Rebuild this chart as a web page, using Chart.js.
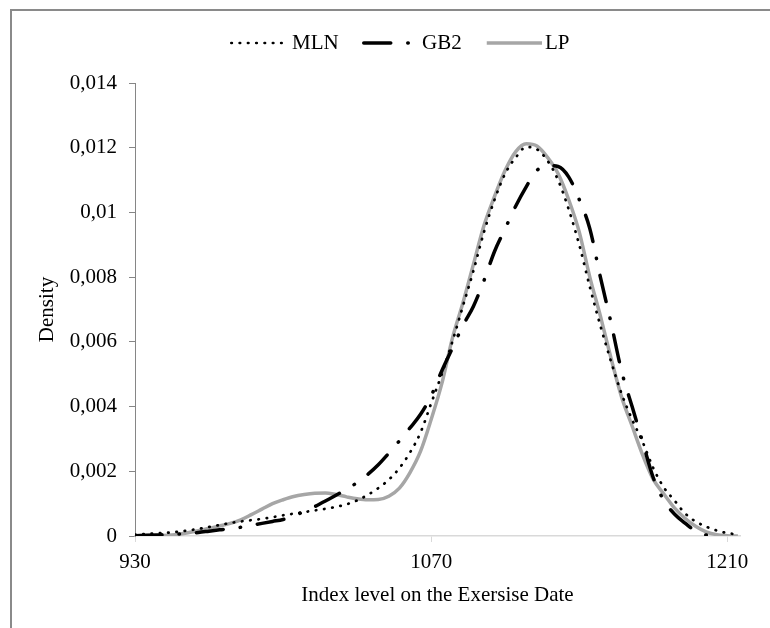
<!DOCTYPE html>
<html>
<head>
<meta charset="utf-8">
<script src="https://cdn.jsdelivr.net/npm/chart.js@4.4.0/dist/chart.umd.min.js"></script>
<style>
    html, body { margin: 0; padding: 0; background: #fff; overflow: hidden; }
    #wrap { position: relative; width: 770px; height: 628px; }
    #frame { position: absolute; left: 10px; top: 9px; width: 900px; height: 800px; border: 2px solid #8a8a8a; }
    #chart { position: absolute; left: 0; top: 0; }
</style>
</head>
<body>
<div id="wrap">
    <div id="frame"></div>
    <canvas id="chart" width="770" height="628"></canvas>
</div>
<script>
// index level on the x axis (step 5)
const indexLevels = [
    930, 935, 940, 945, 950, 955, 960, 965, 970, 975,
    980, 985, 990, 995, 1000, 1005, 1010, 1015, 1020, 1025,
    1030, 1035, 1040, 1045, 1050, 1055, 1060, 1065, 1070, 1075,
    1080, 1085, 1090, 1095, 1100, 1105, 1110, 1115, 1120, 1125,
    1130, 1135, 1140, 1145, 1150, 1155, 1160, 1165, 1170, 1175,
    1180, 1185, 1190, 1195, 1200, 1205, 1210, 1215
];

const mlnDensity = [
    0.00004, 0.00006, 0.00008, 0.0001, 0.00013, 0.00017, 0.00022, 0.00028, 0.00034, 0.0004,
    0.00045, 0.00049, 0.00053, 0.00058, 0.00064, 0.00069, 0.00074, 0.00079, 0.00084, 0.0009,
    0.00098, 0.0011, 0.00127, 0.00148, 0.00174, 0.0021, 0.00258, 0.0032, 0.0041, 0.005,
    0.006, 0.0071, 0.0082, 0.0094, 0.0104, 0.0112, 0.0117, 0.01202, 0.01195, 0.0116,
    0.011, 0.0101, 0.009, 0.0077, 0.0065, 0.0054, 0.0044, 0.0036, 0.0029, 0.0021,
    0.0015, 0.0011, 0.0007, 0.00045, 0.00029, 0.00017, 0.00009, 0.00005
];

const gb2Density = [
    0.00001, 0.00002, 0.00003, 0.00004, 0.00006, 0.00008, 0.00011, 0.00015, 0.00019, 0.00023,
    0.00027, 0.00033, 0.00039, 0.00045, 0.00051, 0.00062, 0.00076, 0.00091, 0.00108, 0.00126,
    0.00145, 0.00165, 0.0019, 0.0022, 0.00256, 0.00294, 0.00334, 0.00376, 0.00433, 0.0051,
    0.0058, 0.0065, 0.0071, 0.0079, 0.0088, 0.0095, 0.0102, 0.0108, 0.0113, 0.01145,
    0.01142, 0.0111, 0.0104, 0.0095, 0.008, 0.0066, 0.0051, 0.004, 0.0029, 0.0018,
    0.0011, 0.00068, 0.0004, 0.00015, 0.00003, 0, null, null
];

const lpDensity = [
    0, 0, 0.00001, 0.00002, 0.00005, 0.0001, 0.00016, 0.00024, 0.00031, 0.00039,
    0.0005, 0.00066, 0.00083, 0.001, 0.00112, 0.00122, 0.00128, 0.00132, 0.00133, 0.00128,
    0.00121, 0.00115, 0.00112, 0.00113, 0.00123, 0.00148, 0.00196, 0.00262, 0.0036, 0.0047,
    0.0061, 0.0072, 0.0084, 0.0096, 0.0105, 0.0113, 0.01188, 0.01212, 0.01205, 0.0117,
    0.0112, 0.0104, 0.0094, 0.008, 0.0068, 0.0055, 0.0043, 0.0034, 0.0025, 0.00175,
    0.0013, 0.00087, 0.00055, 0.0003, 0.00013, 0.00004, 0.00001, 0
];

const xTicks = [930, 1070, 1210];

const serif = '"Liberation Serif", "Times New Roman", serif';

function toPoints(values) {
    return indexLevels.map((x, i) => ({ x: x, y: values[i] }));
}

// legend drawn by hand so every line sample sits where Excel put it
const legendSpots = [
    { x: 230, w: 52, textX: 292 },
    { x: 362, w: 48, textX: 422 },
    { x: 485, w: 57, textX: 545 }
];

const legendPlugin = {
    id: 'excelLegend',
    afterDraw(chart) {
        const ctx = chart.ctx;
        const y = 43;
        chart.data.datasets.forEach((ds, i) => {
            const spot = legendSpots[i];
            ctx.save();
            ctx.strokeStyle = ds.borderColor;
            ctx.lineWidth = ds.borderWidth;
            ctx.lineCap = ds.borderCapStyle || 'butt';
            ctx.setLineDash(ds.borderDash || []);
            ctx.beginPath();
            ctx.moveTo(spot.x + ctx.lineWidth / 2, y);
            ctx.lineTo(spot.x + spot.w, y);
            ctx.stroke();
            ctx.setLineDash([]);
            ctx.fillStyle = '#000';
            ctx.font = '21px ' + serif;
            ctx.textBaseline = 'middle';
            ctx.fillText(ds.label, spot.textX, y);
            ctx.restore();
        });
    }
};

const ctx = document.getElementById('chart').getContext('2d');
new Chart(ctx, {
    type: 'line',
    data: {
        datasets: [{
            label: 'MLN',
            data: toPoints(mlnDensity),
            borderColor: '#000000',
            borderWidth: 2.7,
            borderDash: [0.5, 7.8],
            borderCapStyle: 'round',
            order: 2
        }, {
            label: 'GB2',
            data: toPoints(gb2Density),
            borderColor: '#000000',
            borderWidth: 3.5,
            borderDash: [27, 17, 0.5, 17],
            borderCapStyle: 'round',
            order: 1
        }, {
            label: 'LP',
            data: toPoints(lpDensity),
            borderColor: '#a6a6a6',
            borderWidth: 3.5,
            order: 3
        }]
    },
    options: {
        responsive: false,
        animation: false,
        layout: {
            padding: { top: 83, right: 30, left: 0, bottom: 0 }
        },
        elements: {
            point: { radius: 0 },
            line: { cubicInterpolationMode: 'monotone', fill: false }
        },
        plugins: {
            legend: { display: false },
            tooltip: { enabled: false }
        },
        scales: {
            x: {
                type: 'linear',
                min: 930,
                max: 1216,
                afterBuildTicks: scale => {
                    scale.ticks = xTicks.map(v => ({ value: v }));
                },
                afterFit: scale => {
                    scale.height = 92;
                },
                ticks: {
                    autoSkip: false,
                    maxRotation: 0,
                    padding: 8,
                    color: '#000',
                    font: { family: serif, size: 21 },
                    callback: value => String(value)
                },
                grid: {
                    drawOnChartArea: false,
                    drawTicks: true,
                    tickLength: 6,
                    color: '#d9d9d9'
                },
                border: { color: '#d9d9d9', width: 1.5 },
                title: {
                    display: true,
                    text: 'Index level on the Exersise Date',
                    color: '#000',
                    font: { family: serif, size: 21 },
                    padding: { top: 0, bottom: 20 }
                }
            },
            y: {
                min: 0,
                max: 0.014,
                afterFit: scale => {
                    scale.width = 135;
                },
                ticks: {
                    stepSize: 0.002,
                    padding: 12,
                    color: '#000',
                    font: { family: serif, size: 21 },
                    callback: value => String(+value.toFixed(3)).replace('.', ',')
                },
                grid: {
                    drawOnChartArea: false,
                    drawTicks: true,
                    tickLength: 6,
                    color: '#868686'
                },
                border: { color: '#868686', width: 1 },
                title: {
                    display: true,
                    text: 'Density',
                    color: '#000',
                    font: { family: serif, size: 21 },
                    padding: { top: 35, bottom: 0 }
                }
            }
        }
    },
    plugins: [legendPlugin]
});
</script>
</body>
</html>
